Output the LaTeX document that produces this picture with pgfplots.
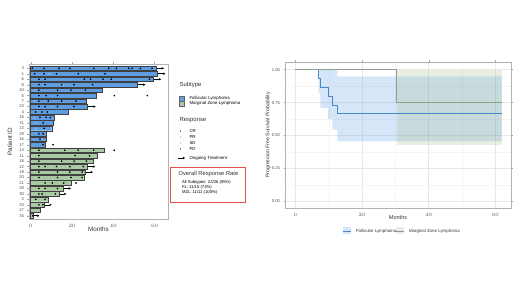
\documentclass[border=0pt]{standalone}
\usepackage{pgfplots}
\pgfplotsset{compat=1.18}
\usepackage{fontspec}
\setmainfont{Liberation Sans}
\usetikzlibrary{arrows.meta}
\definecolor{flbar}{HTML}{5E9DE2}
\definecolor{mzbar}{HTML}{A9C9A3}
\definecolor{flline}{HTML}{4A88CC}
\definecolor{mzline}{HTML}{8E9E8C}
\definecolor{flband}{HTML}{5C9BE6}
\definecolor{mzband}{HTML}{8CB070}
\definecolor{txt}{HTML}{333333}
\definecolor{ticktxt}{HTML}{4D4D4D}
\definecolor{boxred}{HTML}{E05050}
\newcommand{\ongoing}[3]{\addplot[black, line width=0.6bp, -{Stealth[length=2.4bp,width=2.4bp]}] coordinates {(#1,#3) (#2,#3)};}
\begin{document}
\begin{tikzpicture}
\path[use as bounding box] (0bp,0bp) rectangle (520bp,292bp);
% ---------------- Swimmer plot ----------------
\begin{axis}[
  at={(29bp,73bp)}, anchor=south west, width=139bp, height=155bp, scale only axis,
  xmin=-0.8, xmax=66.5, ymin=0.4, ymax=28.79,
  xtick={0,20,40,60},
  ytick={1,2,...,28},
  yticklabels={34,27,33,2,30,28,21,20,19,22,18,11,14,17,16,29,13,31,15,4,23,7,5,10,8,6,1,3},
  tick align=outside, major tick length=1.5bp,
  tick style={gray!70, line width=0.3bp},
  axis line style={gray!60, line width=0.4bp},
  ticklabel style={font=\fontsize{4.2}{5}\selectfont, text=ticktxt},
  xticklabel style={font=\fontsize{4.6}{5}\selectfont},
  xlabel={Months}, ylabel={Patient ID},
  label style={font=\fontsize{6.3}{7}\selectfont, text=txt},
  xlabel style={at={(axis description cs:0.5,0)}, anchor=center, yshift=-10bp},
  ylabel style={at={(axis description cs:0,0.5)}, anchor=center, yshift=19bp},
  clip=false,
]
\addplot[xbar, bar shift=0pt, bar width=4.7bp, fill=flbar, draw=black!75, line width=0.35bp] coordinates {
 (60.6,28) (61.2,27) (59.3,26) (51.6,25) (34.8,24) (31.6,23) (27.0,22) (27.5,21)
 (18.2,20) (11.6,19) (11.0,18) (10.2,17) (7.7,16) (7.5,15) (6.9,14)};
\addplot[xbar, bar shift=0pt, bar width=4.7bp, fill=mzbar, draw=black!75, line width=0.35bp] coordinates {
 (35.8,13) (32.3,12) (30.5,11) (27.5,10) (26.5,9) (25.7,8) (19.5,7) (15.8,6)
 (13.7,5) (8.5,4) (6.5,3) (4.6,2) (1.2,1)};
% PR / SD (grey)
\addplot[only marks, mark=*, mark size=0.55bp, draw=gray!55, fill=gray!55] coordinates {
 (9,27) (2,22) (2.5,18) (2.5,17) (8.5,11) (6.5,5) (4.5,12) (2.2,24) (10,21) (5.5,15) (2,19) (9,8) (16,25)};
% CR / PD (black)
\addplot[only marks, mark=*, mark size=0.6bp, draw=black, fill=black] coordinates {
 (0.8,28) (6.4,28) (13.7,28) (19,28) (30.6,28) (37.8,28) (41.5,28) (47.5,28) (49.1,28) (53.1,28) (58.8,28)
 (2,27) (6.5,27) (12.5,27) (23,27) (36,27)
 (4,26) (7,26) (26,26) (29,26) (35,26) (39,26) (57.5,26)
 (4,25) (7,25) (15,25) (21,25) (30,25)
 (4,24) (13,24) (19.5,24) (26.5,24)
 (4,23) (7.5,23) (13,23) (40.5,23) (56.5,23)
 (4,22) (8.5,22) (15,22) (22,22)
 (4,21) (7,21) (13,21) (21,21)
 (2.5,20) (5.5,20) (8,20)
 (4.5,19) (7.5,19) (9.5,19)
 (6,18) (6.5,17) (4,16) (6,16) (4.5,15) (6,14) (10.8,14)
 (4,13) (16.5,13) (23,13) (30.5,13) (40.5,13)
 (4,12) (21.5,12) (28.5,12)
 (4,11) (15,11) (21,11) (27,11)
 (4,10) (7,10) (12.5,10) (19,10) (25.5,10)
 (4,9) (13,9) (19,9) (25,9)
 (4,8) (13,8) (19.5,8) (25,8)
 (7,7) (10.5,7) (16,7) (22,7)
 (4,6) (7,6) (13,6)
 (4,5) (5.5,5) (12,5)
 (2.5,4) (7,4) (4,3) (6,3) (1,1)};
\ongoing{61.1}{64.6}{28}
\ongoing{61.7}{65.2}{27}
\ongoing{59.8}{63.2}{26}
\ongoing{52.1}{55.6}{25}
\ongoing{28.0}{31.5}{21}
\ongoing{28.0}{31.2}{10}
\ongoing{27.0}{30.2}{9}
\ongoing{16.3}{19.5}{6}
\ongoing{14.2}{17.3}{5}
\ongoing{7.0}{10.2}{3}
\ongoing{1.7}{4.2}{1}
\end{axis}
% ---------------- Left legends ----------------
\node[anchor=west, font=\fontsize{6}{7}\selectfont, text=txt] at (176bp,207bp) {Subtype};
\filldraw[fill=flbar, draw=black!60, line width=0.3bp] (179bp,191bp) rectangle (184bp,196bp);
\filldraw[fill=mzbar, draw=black!60, line width=0.3bp] (179bp,186bp) rectangle (184bp,191bp);
\node[anchor=west, font=\fontsize{4.4}{5}\selectfont, text=black] at (186bp,193.5bp) {Follicular Lymphoma};
\node[anchor=west, font=\fontsize{4.4}{5}\selectfont, text=black] at (186bp,188.5bp) {Marginal Zone Lymphoma};
\node[anchor=west, font=\fontsize{6}{7}\selectfont, text=txt] at (176bp,172bp) {Response};
\fill[black] (180.5bp,161bp) circle (0.65bp);
\fill[gray!55] (180.5bp,155bp) circle (0.65bp);
\fill[gray!75] (180.5bp,149bp) circle (0.65bp);
\fill[black] (180.5bp,143bp) circle (0.65bp);
\node[anchor=west, font=\fontsize{4.4}{5}\selectfont] at (186bp,161bp) {CR};
\node[anchor=west, font=\fontsize{4.4}{5}\selectfont] at (186bp,155bp) {PR};
\node[anchor=west, font=\fontsize{4.4}{5}\selectfont] at (186bp,149bp) {SD};
\node[anchor=west, font=\fontsize{4.4}{5}\selectfont] at (186bp,143bp) {PD};
\draw[black, line width=0.6bp, -{Stealth[length=2.4bp,width=2.4bp]}] (177.5bp,134bp) -- (185bp,134bp);
\node[anchor=west, font=\fontsize{4.4}{5}\selectfont] at (186bp,134bp) {Ongoing Treatment};
\draw[boxred, line width=0.5bp] (170bp,90bp) rectangle (245bp,124.5bp);
\node[anchor=west, font=\fontsize{5.8}{7}\selectfont, text=txt] at (175bp,117.5bp) {Overall Response Rate};
\node[anchor=west, font=\fontsize{4.2}{5}\selectfont] at (178.5bp,109.3bp) {All Subtypes: 22/26 (85\%)};
\node[anchor=west, font=\fontsize{4.2}{5}\selectfont] at (178.5bp,104.5bp) {FL: 11/15 (73\%)};
\node[anchor=west, font=\fontsize{4.2}{5}\selectfont] at (178.5bp,99.7bp) {MZL: 11/11 (100\%)};
% ---------------- KM plot ----------------
\begin{axis}[
  at={(285bp,84bp)}, anchor=south west, width=226bp, height=146bp, scale only axis,
  xmin=-3.1, xmax=64.7, ymin=-0.05, ymax=1.058,
  xtick={0,20,40,60}, ytick={0,0.25,0.5,0.75,1},
  yticklabels={0.00,0.25,0.50,0.75,1.00},
  minor xtick={10,30,50}, minor ytick={0.125,0.375,0.625,0.875},
  grid=both,
  major grid style={gray!18, line width=0.4bp},
  minor grid style={gray!9, line width=0.25bp},
  tick align=outside, major tick length=1.5bp, minor tick length=0pt,
  tick style={gray!70, line width=0.3bp},
  axis line style={gray!60, line width=0.4bp},
  ticklabel style={font=\fontsize{4.2}{5}\selectfont, text=ticktxt},
  xlabel={Months}, ylabel={Progression Free Survival Probability},
  xlabel style={font=\fontsize{5.6}{7}\selectfont, text=txt, at={(axis description cs:0.5,0)}, anchor=center, yshift=-10bp},
  ylabel style={font=\fontsize{5.2}{6}\selectfont, text=txt, at={(axis description cs:0,0.5)}, anchor=center, yshift=17bp},
]
\addplot[fill=flband, fill opacity=0.25, draw=none] coordinates {
 (7.0,1) (12.6,1) (12.6,0.949) (61.9,0.949) (61.9,0.455) (12.6,0.455) (12.6,0.545)
 (11.1,0.545) (11.1,0.626) (9.8,0.626) (9.8,0.707) (7.5,0.707) (7.5,0.82) (7.0,0.82)} -- cycle;
\addplot[fill=mzband, fill opacity=0.2, draw=none] coordinates {
 (30.4,1) (61.9,1) (61.9,0.43) (30.4,0.43)} -- cycle;
\addplot[const plot, color=mzline, line width=0.55bp] coordinates {
 (0,1) (30.4,0.75) (61.9,0.75)};
\addplot[const plot, color=flline, line width=0.6bp] coordinates {
 (0,1) (7.0,0.933) (7.5,0.867) (9.8,0.8) (11.1,0.733) (12.6,0.667) (61.9,0.667)};
\addplot[const plot, color=mzline, line width=0.55bp] coordinates {(0,1) (7.0,1)};
\end{axis}
% KM legend
\fill[flband, opacity=0.25] (343bp,57.5bp) rectangle (351bp,64.5bp);
\draw[flline, line width=0.6bp] (343bp,61bp) -- (351bp,61bp);
\node[anchor=west, font=\fontsize{4.4}{5}\selectfont, text=txt] at (352.5bp,61bp) {Follicular Lymphoma};
\fill[mzband, opacity=0.2] (396bp,57.5bp) rectangle (404bp,64.5bp);
\draw[mzline, line width=0.55bp] (396bp,61bp) -- (404bp,61bp);
\node[anchor=west, font=\fontsize{4.4}{5}\selectfont, text=txt] at (405.5bp,61bp) {Marginal Zone Lymphoma};
\end{tikzpicture}
\end{document}
